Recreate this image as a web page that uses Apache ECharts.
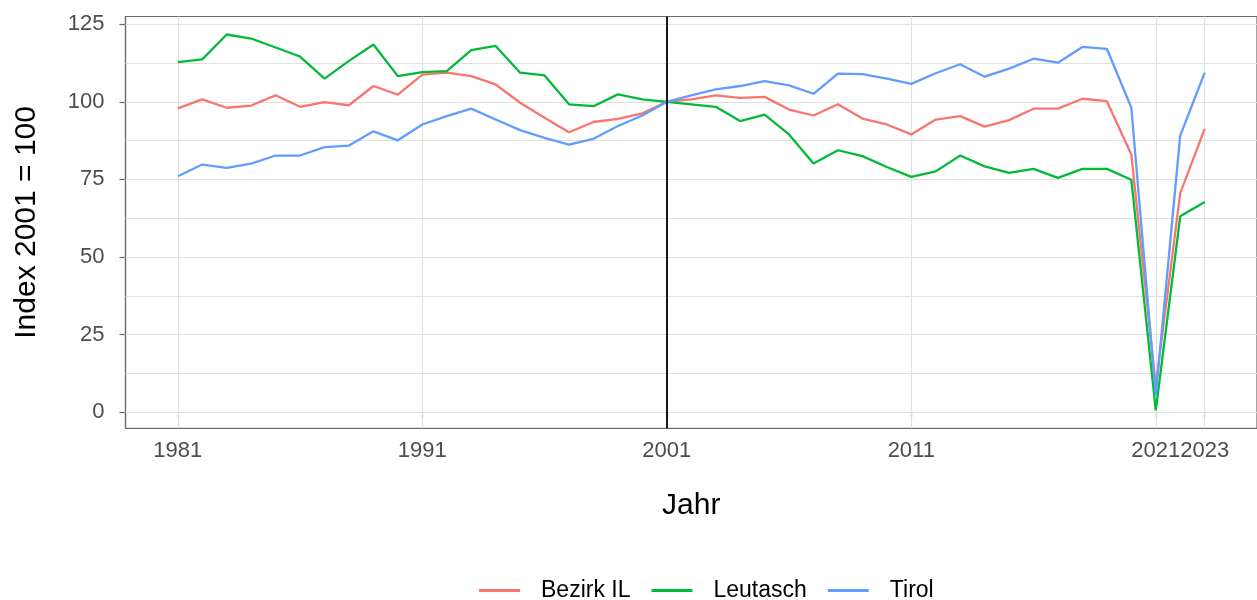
<!DOCTYPE html>
<html>
<head>
<meta charset="utf-8">
<script src="https://cdn.jsdelivr.net/npm/echarts@6/dist/echarts.min.js"></script>
<style>
html,body{margin:0;padding:0;background:#fff;}
#chart{width:1257px;height:600px;}
</style>
</head>
<body>
<div id="chart"></div>
<script>
const years = [1981,1982,1983,1984,1985,1986,1987,1988,1989,1990,
  1991,1992,1993,1994,1995,1996,1997,1998,1999,2000,
  2001,2002,2003,2004,2005,2006,2007,2008,2009,2010,
  2011,2012,2013,2014,2015,2016,2017,2018,2019,2020,
  2021,2022,2023];
const bezirkIL = [97.9,100.8,98.1,98.8,102.1,98.4,99.9,98.9,105.1,102.3,
  108.8,109.4,108.3,105.6,99.7,94.9,90.2,93.5,94.5,96.3,
  100,100.8,102.1,101.3,101.6,97.5,95.6,99.2,94.6,92.7,
  89.5,94.3,95.4,92.0,94.1,97.8,97.8,101.0,100.2,83.0,
  8.5,70.6,91.3];
const leutasch = [112.8,113.7,121.7,120.4,117.5,114.6,107.5,113.2,118.5,108.3,
  109.6,109.9,116.7,118.0,109.4,108.5,99.2,98.6,102.4,100.8,
  100,99.2,98.4,93.8,95.9,89.5,80.1,84.4,82.5,79.0,
  75.8,77.6,82.7,79.2,77.1,78.4,75.5,78.4,78.4,74.9,
  0.6,63.1,67.7];
const tirol = [76.0,79.8,78.7,80.1,82.7,82.7,85.4,85.9,90.5,87.6,
  92.7,95.4,97.8,94.3,90.9,88.4,86.2,88.1,92.2,95.6,
  100,102.1,104.0,105.1,106.7,105.3,102.6,109.1,108.9,107.5,
  105.8,109.2,112.1,108.1,110.7,113.9,112.6,117.7,117.1,98.1,
  5.5,89.1,109.4];
const seriesNames = ['Bezirk IL','Leutasch','Tirol'];
const seriesColors = ['#F8766D','#00BA38','#619CFF'];
const xTicks = [1981,1991,2001,2011,2021,2023];
const yTicks = [0,25,50,75,100,125];
const yGrid = [0,12.5,25,37.5,50,62.5,75,87.5,100,112.5,125];
const refYear = 2001;

const FONT = '"Liberation Sans", Arial, sans-serif';
const pairs = arr => years.map((y,i)=>[y,arr[i]]);
const allData = [bezirkIL, leutasch, tirol];

const chart = echarts.init(document.getElementById('chart'), null, {renderer:'canvas'});
const option = {
  animation:false,
  backgroundColor:'#ffffff',
  textStyle:{fontFamily:FONT},
  grid:{left:125.5, right:-9, top:16.5, bottom:171.7, show:true, borderColor:'#6b6b6b', borderWidth:1.2},
  legend:{
    data:seriesNames,
    left:479, top:579, padding:0,
    icon:'rect', itemWidth:41, itemHeight:3, itemGap:21,
    textStyle:{fontSize:23, color:'#000', fontFamily:FONT, padding:[0,0,0,16]}
  },
  xAxis:{
    type:'value', min:1978.86, max:2025.14,
    axisLine:{show:true, lineStyle:{color:'#6b6b6b', width:1.2}},
    axisTick:{show:true, customValues:xTicks, length:6, lineStyle:{color:'#6b6b6b', width:1.2}},
    axisLabel:{customValues:xTicks, hideOverlap:false, formatter:v=>String(v), fontSize:22, color:'#4d4d4d', margin:12, fontFamily:FONT},
    splitLine:{show:false},
    name:'Jahr', nameLocation:'middle', nameGap:62,
    nameTextStyle:{fontSize:30, color:'#000', fontFamily:FONT}
  },
  yAxis:{
    type:'value', min:-5.2, max:127.5,
    axisLine:{show:true, lineStyle:{color:'#6b6b6b', width:1.2}},
    axisTick:{show:true, customValues:yTicks, length:6, lineStyle:{color:'#6b6b6b', width:1.2}},
    axisLabel:{customValues:yTicks, hideOverlap:false, formatter:v=>String(v), fontSize:22, color:'#4d4d4d', margin:21, fontFamily:FONT},
    splitLine:{show:false},
    name:'Index 2001 = 100', nameLocation:'middle', nameGap:84, nameRotate:90,
    nameTextStyle:{fontSize:30, color:'#000', fontFamily:FONT}
  },
  series:[
    {
      name:'_grid', type:'line', data:[], z:1, silent:true,
      markLine:{silent:true, z:1, symbol:['none','none'], label:{show:false}, animation:false,
        lineStyle:{color:'#e0e0e0', width:1.1, type:'solid'},
        emphasis:{disabled:true},
        data:[...yGrid.map(v=>({yAxis:v})), ...xTicks.map(v=>({xAxis:v}))]}
    },
    ...seriesNames.map((n,i)=>({
      name:n, type:'line', data:pairs(allData[i]), showSymbol:false, z:3,
      color:seriesColors[i],
      lineStyle:{color:seriesColors[i], width:2.3},
      emphasis:{disabled:true}
    })),
    {
      name:'_ref', type:'line', data:[], z:6, silent:true,
      markLine:{silent:true, z:6, symbol:['none','none'], label:{show:false}, animation:false,
        lineStyle:{color:'#000', width:1.8, type:'solid'},
        emphasis:{disabled:true},
        data:[{xAxis:refYear}]}
    }
  ]
};
chart.setOption(option);
</script>
</body>
</html>
